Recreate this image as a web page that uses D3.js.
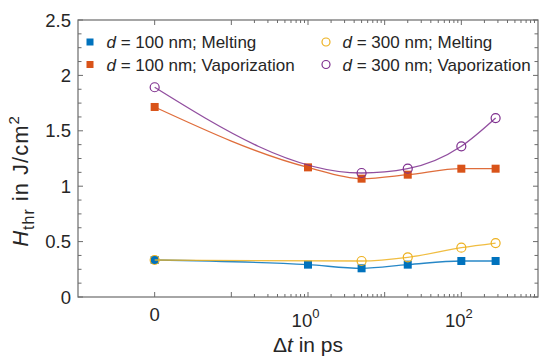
<!DOCTYPE html>
<html>
<head>
<meta charset="utf-8">
<script src="https://cdn.jsdelivr.net/npm/d3@7"></script>
<style>
  body { margin: 0; background: #fff; }
  text { font-family: "Liberation Sans", Arial, Helvetica, sans-serif; fill: #262626; }
</style>
</head>
<body>
<div id="chart"></div>
<script>
// data (x = 0 is drawn at the 10^-2 position)
const xAll = [0, 1, 5, 20, 100, 280];
const melt100 = [0.334, 0.292, 0.259, 0.292, 0.325, 0.325];
const vap100 = [1.715, 1.17, 1.068, 1.104, 1.158, 1.158];
const x300 = [0, 5, 20, 100, 280];
const melt300 = [0.334, 0.325, 0.358, 0.445, 0.487];
const vap300 = [1.893, 1.119, 1.158, 1.36, 1.615];
const yTickLabels = ["0", "0.5", "1", "1.5", "2", "2.5"];

var width = 539, height = 358;
var pLeft = 78, pRight = 538, pTop = 20, pBottom = 297;

var svg = d3.select("#chart").append("svg")
  .attr("width", width).attr("height", height);

var x = d3.scaleLog().domain([1e-3, 1e3]).range([pLeft, pRight]);
var y = d3.scaleLinear().domain([0, 2.5]).range([pBottom, pTop]);
var xpos = function(v) { return x(v === 0 ? 0.01 : v); };

var axisColor = "#6b6b6b";

// box
svg.append("rect").attr("x", pLeft).attr("y", pTop)
  .attr("width", pRight - pLeft).attr("height", pBottom - pTop)
  .attr("fill", "none").attr("stroke", axisColor).attr("stroke-width", 1.2);

// x ticks (major + minor, bottom & top, pointing inward)
var xMajor = [0.01, 0.1, 1, 10, 100];
var xMinor = [];
[0.1, 1, 10, 100].forEach(function(d) {
  for (var k = 2; k <= 9; k++) xMinor.push(d * k);
});
function xTicks(vals, len) {
  vals.forEach(function(v) {
    svg.append("line").attr("x1", x(v)).attr("x2", x(v))
      .attr("y1", pBottom).attr("y2", pBottom - len)
      .attr("stroke", axisColor).attr("stroke-width", 1);
    svg.append("line").attr("x1", x(v)).attr("x2", x(v))
      .attr("y1", pTop).attr("y2", pTop + len)
      .attr("stroke", axisColor).attr("stroke-width", 1);
  });
}
xTicks(xMajor, 5);
xTicks(xMinor, 3);

// y ticks every 0.125, labelled every 0.5
d3.range(0, 2.5001, 0.125).forEach(function(v, i) {
  var len = (i % 4 === 0) ? 5 : 3.5;
  svg.append("line").attr("x1", pLeft).attr("x2", pLeft + len)
    .attr("y1", y(v)).attr("y2", y(v))
    .attr("stroke", axisColor).attr("stroke-width", 1);
  svg.append("line").attr("x1", pRight).attr("x2", pRight - len)
    .attr("y1", y(v)).attr("y2", y(v))
    .attr("stroke", axisColor).attr("stroke-width", 1);
});

yTickLabels.forEach(function(t) {
  svg.append("text").attr("x", 71).attr("y", y(+t) + 6.5)
    .attr("text-anchor", "end").style("font-size", "18.5px").text(t);
});

// x tick labels
svg.append("text").attr("x", xpos(0)).attr("y", 321)
  .attr("text-anchor", "middle").style("font-size", "18.5px").text("0");
[[1, "0"], [100, "2"]].forEach(function(p) {
  var t = svg.append("text").attr("x", x(p[0]) - 2.5).attr("y", 327)
    .attr("text-anchor", "middle").style("font-size", "18.5px");
  t.append("tspan").text("10");
  t.append("tspan").attr("dy", -9).style("font-size", "13px").text(p[1]);
});

// axis labels
var xl = svg.append("text").attr("x", 308).attr("y", 352)
  .attr("text-anchor", "middle").style("font-size", "21px");
xl.append("tspan").text("\u0394");
xl.append("tspan").style("font-style", "italic").text("t");
xl.append("tspan").text(" in ps");

var yl = svg.append("text").attr("transform", "translate(28,181) rotate(-90)")
  .attr("text-anchor", "middle").style("font-size", "22px")
  .style("letter-spacing", "1px");
yl.append("tspan").style("font-style", "italic").text("H");
yl.append("tspan").attr("dy", 6).style("font-size", "16px").text("thr");
yl.append("tspan").attr("dy", -6).text(" in J/cm");
yl.append("tspan").attr("dy", -9).style("font-size", "15px").text("2");

// series
var series = [
  {xs: xAll, ys: melt100, color: "#0072BD", marker: "square"},
  {xs: xAll, ys: vap100, color: "#D95319", marker: "square"},
  {xs: x300, ys: melt300, color: "#EDB120", marker: "circle"},
  {xs: x300, ys: vap300, color: "#7E2F8E", marker: "circle"}
];

var line = d3.line()
  .x(function(d) { return xpos(d[0]); })
  .y(function(d) { return y(d[1]); })
  .curve(d3.curveMonotoneX);

series.forEach(function(s) {
  var pts = s.xs.map(function(v, i) { return [v, s.ys[i]]; });
  svg.append("path").datum(pts)
    .attr("d", line)
    .attr("fill", "none").attr("stroke", s.color)
    .attr("stroke-width", 1.3).attr("opacity", 0.85);
  if (s.marker === "square") {
    svg.selectAll(null).data(pts).enter().append("rect")
      .attr("x", function(d) { return xpos(d[0]) - 4; })
      .attr("y", function(d) { return y(d[1]) - 4; })
      .attr("width", 8).attr("height", 8)
      .attr("fill", s.color);
  } else {
    svg.selectAll(null).data(pts).enter().append("circle")
      .attr("cx", function(d) { return xpos(d[0]); })
      .attr("cy", function(d) { return y(d[1]); })
      .attr("r", 4.5)
      .attr("fill", "none").attr("stroke", s.color).attr("stroke-width", 1.2);
  }
});

// legend
var legend = [
  {x: 90, y: 42, color: "#0072BD", marker: "square", d: "100", what: "Melting"},
  {x: 90, y: 64.5, color: "#D95319", marker: "square", d: "100", what: "Vaporization"},
  {x: 326, y: 42, color: "#EDB120", marker: "circle", d: "300", what: "Melting"},
  {x: 326, y: 64.5, color: "#7E2F8E", marker: "circle", d: "300", what: "Vaporization"}
];
legend.forEach(function(l) {
  if (l.marker === "square") {
    svg.append("rect").attr("x", l.x - 3.5).attr("y", l.y - 3.5)
      .attr("width", 7).attr("height", 7).attr("fill", l.color);
  } else {
    svg.append("circle").attr("cx", l.x).attr("cy", l.y).attr("r", 4)
      .attr("fill", "none").attr("stroke", l.color).attr("stroke-width", 1.2);
  }
  var t = svg.append("text").attr("x", l.x + 16.5).attr("y", l.y + 6)
    .style("font-size", "17px");
  t.append("tspan").style("font-style", "italic").text("d");
  t.append("tspan").text(" = " + l.d + " nm; " + l.what);
});
</script>
</body>
</html>
